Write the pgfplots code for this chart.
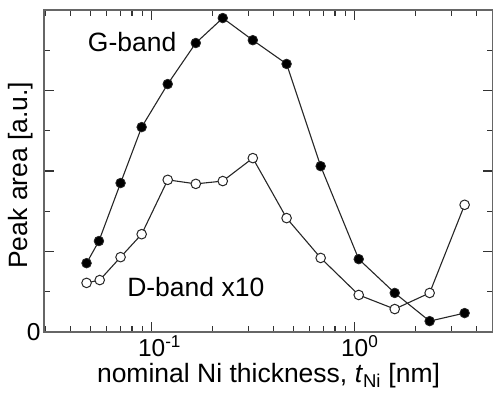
\documentclass[border=0pt]{standalone}
\usepackage{pgfplots}
\pgfplotsset{compat=1.18}
\usepackage{fontspec}
\setmainfont{Liberation Sans}
\begin{document}
\begin{tikzpicture}
\begin{axis}[
  scale only axis, width=449pt, height=322pt,
  xmode=log, xmin=0.0295, xmax=4.8, ymin=0, ymax=8,
  xtick={0.1,1}, xticklabels={10\rlap{\textsuperscript{-1}},10\rlap{\textsuperscript{0}}},
  minor xtick={0.03,0.04,0.05,0.06,0.07,0.08,0.09,0.2,0.3,0.4,0.5,0.6,0.7,0.8,0.9,2,3,4},
  ytick={0,2,4,6}, yticklabels={0,,,}, minor ytick={1,3,5,7},
  tick align=inside, major tick length=10pt, minor tick length=6pt,
  axis line style={black!60, line width=1.3pt},
  every tick/.style={black!80, line width=1.1pt},
  font=\fontsize{26.5}{30}\selectfont,
  tick label style={font=\fontsize{24.5}{28}\selectfont},
  xlabel={nominal Ni thickness, \textit{t}\textsubscript{Ni} [nm]},
  ylabel={Peak area [a.u.]},
  every axis y label/.style={at={(axis description cs:-0.016,0.487)}, rotate=90, anchor=south},
  clip=false,
]
\addplot[black!85, line width=1.1pt, mark=*, mark size=4.8pt, mark options={fill=black, line width=0.8pt}] coordinates {
(0.0478,1.71) (0.0550,2.26) (0.0703,3.70) (0.0893,5.09) (0.120,6.16) (0.165,7.18) (0.224,7.80)
(0.315,7.25) (0.462,6.66) (0.680,4.12) (1.047,1.81) (1.575,0.97) (2.34,0.27) (3.48,0.47)};
\addplot[black!85, line width=1.1pt, mark=*, mark size=4.8pt, mark options={fill=white, line width=1pt}] coordinates {
(0.0478,1.22) (0.0555,1.29) (0.0703,1.86) (0.0893,2.43) (0.120,3.78) (0.165,3.68) (0.224,3.75)
(0.315,4.32) (0.462,2.83) (0.680,1.84) (1.047,0.92) (1.575,0.57) (2.34,0.97) (3.48,3.16)};
\node[anchor=base] at (axis cs:0.0802,6.96) {G-band};
\node[anchor=base] at (axis cs:0.165,0.87) {D-band x10};
\end{axis}
\pgfresetboundingbox
\path ([shift={(-44pt,-69pt)}]current axis.south west) rectangle ([shift={(0pt,10pt)}]current axis.north east);
\end{tikzpicture}
\end{document}
